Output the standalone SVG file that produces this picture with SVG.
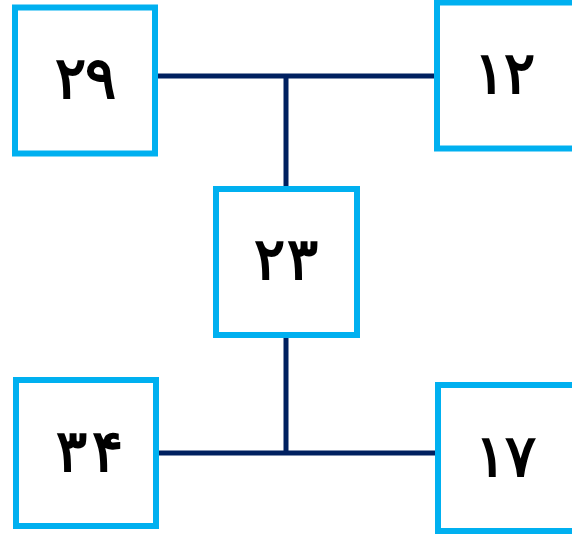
<svg xmlns="http://www.w3.org/2000/svg" width="572" height="534" viewBox="0 0 572 534">
<style>
.box{fill:#fff;stroke:#00B0F0;stroke-width:6}
.lbl{font-family:"Liberation Serif",serif;font-weight:bold;font-size:58px;fill:#000;text-anchor:middle}
.con{stroke:#002060;stroke-width:5;fill:none}
</style>
<rect width="572" height="534" fill="#fff"/>
<g id="connectors">
<path class="con" d="M158 76H437M286 76V189"/>
<path class="con" d="M158 453H438M286 335V453"/>
</g>
<g id="n29"><rect class="box" x="15" y="7.5" width="140" height="146"/><text class="lbl" y="98"><tspan x="70">۲</tspan><tspan x="100">۹</tspan></text></g>
<g id="n12"><rect class="box" x="437" y="2.5" width="145" height="146"/><text class="lbl" y="93"><tspan x="489">۱</tspan><tspan x="519">۲</tspan></text></g>
<g id="n23"><rect class="box" x="216" y="189" width="141" height="146"/><text class="lbl" y="279"><tspan x="269">۲</tspan><tspan x="302">۳</tspan></text></g>
<g id="n34"><rect class="box" x="16" y="380" width="140" height="146"/><text class="lbl" y="471"><tspan x="71">۳</tspan><tspan x="107">۴</tspan></text></g>
<g id="n17"><rect class="box" x="438" y="385" width="145" height="146"/><text class="lbl" y="476"><tspan x="490">۱</tspan><tspan x="520">۷</tspan></text></g>
</svg>
